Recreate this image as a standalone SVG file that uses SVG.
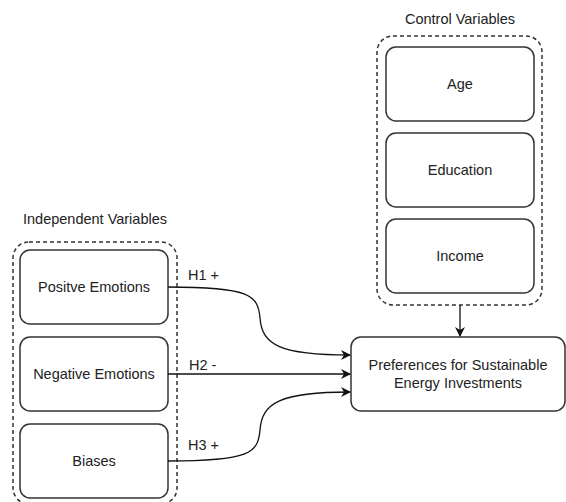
<svg xmlns="http://www.w3.org/2000/svg" width="566" height="502" viewBox="0 0 566 502">
<style>
text{font-family:"Liberation Sans",Arial,sans-serif;font-size:14.5px;fill:#222;}
.box{fill:#fff;stroke:#333;stroke-width:1.5;}
.grp{fill:none;stroke:#333;stroke-width:1.5;stroke-dasharray:4 3;}
.edge{fill:none;stroke:#111;stroke-width:1.3;}
</style>
<defs>
<marker id="arr" viewBox="0 0 10 10" refX="9" refY="5" markerWidth="10" markerHeight="10" markerUnits="userSpaceOnUse" orient="auto">
<path d="M0,0 L10,5 L0,10 L3,5 Z" fill="#111"/>
</marker>
</defs>
<rect width="566" height="502" fill="#fff"/>
<g id="independent-group">
<rect class="grp" x="13" y="242" width="164" height="262" rx="16"/>
<text x="95" y="224" text-anchor="middle">Independent Variables</text>
</g>
<g id="control-group">
<rect class="grp" x="377" y="36" width="165" height="269" rx="16"/>
<text x="460" y="24" text-anchor="middle">Control Variables</text>
</g>
<g id="positive">
<rect class="box" x="20" y="250" width="148" height="74" rx="10"/>
<text x="94" y="292" text-anchor="middle">Positve Emotions</text>
</g>
<g id="negative">
<rect class="box" x="20" y="337" width="148" height="74" rx="10"/>
<text x="94" y="379" text-anchor="middle">Negative Emotions</text>
</g>
<g id="biases">
<rect class="box" x="20" y="424" width="148" height="74" rx="10"/>
<text x="94" y="466" text-anchor="middle">Biases</text>
</g>
<g id="age">
<rect class="box" x="386" y="47" width="148" height="74" rx="10"/>
<text x="460" y="89" text-anchor="middle">Age</text>
</g>
<g id="education">
<rect class="box" x="386" y="133" width="148" height="74" rx="10"/>
<text x="460" y="175" text-anchor="middle">Education</text>
</g>
<g id="income">
<rect class="box" x="386" y="219" width="148" height="74" rx="10"/>
<text x="460" y="261" text-anchor="middle">Income</text>
</g>
<g id="preferences">
<rect class="box" x="351" y="337" width="214" height="74" rx="10"/>
<text x="458" y="370" text-anchor="middle">Preferences for Sustainable</text>
<text x="458" y="388" text-anchor="middle">Energy Investments</text>
</g>
<g id="connectors">
<path class="edge" d="M168,287 C250,287 258,295 260,318 C262,345 280,355 350,355" marker-end="url(#arr)"/>
<path class="edge" d="M168,374 L350,374" marker-end="url(#arr)"/>
<path class="edge" d="M168,461 C250,461 258,453 260,430 C262,403 280,392 350,392" marker-end="url(#arr)"/>
<path class="edge" d="M460,305 L460,336" marker-end="url(#arr)"/>
<text x="188" y="280">H1 +</text>
<text x="189" y="370">H2 -</text>
<text x="188" y="450">H3 +</text>
</g>
</svg>
